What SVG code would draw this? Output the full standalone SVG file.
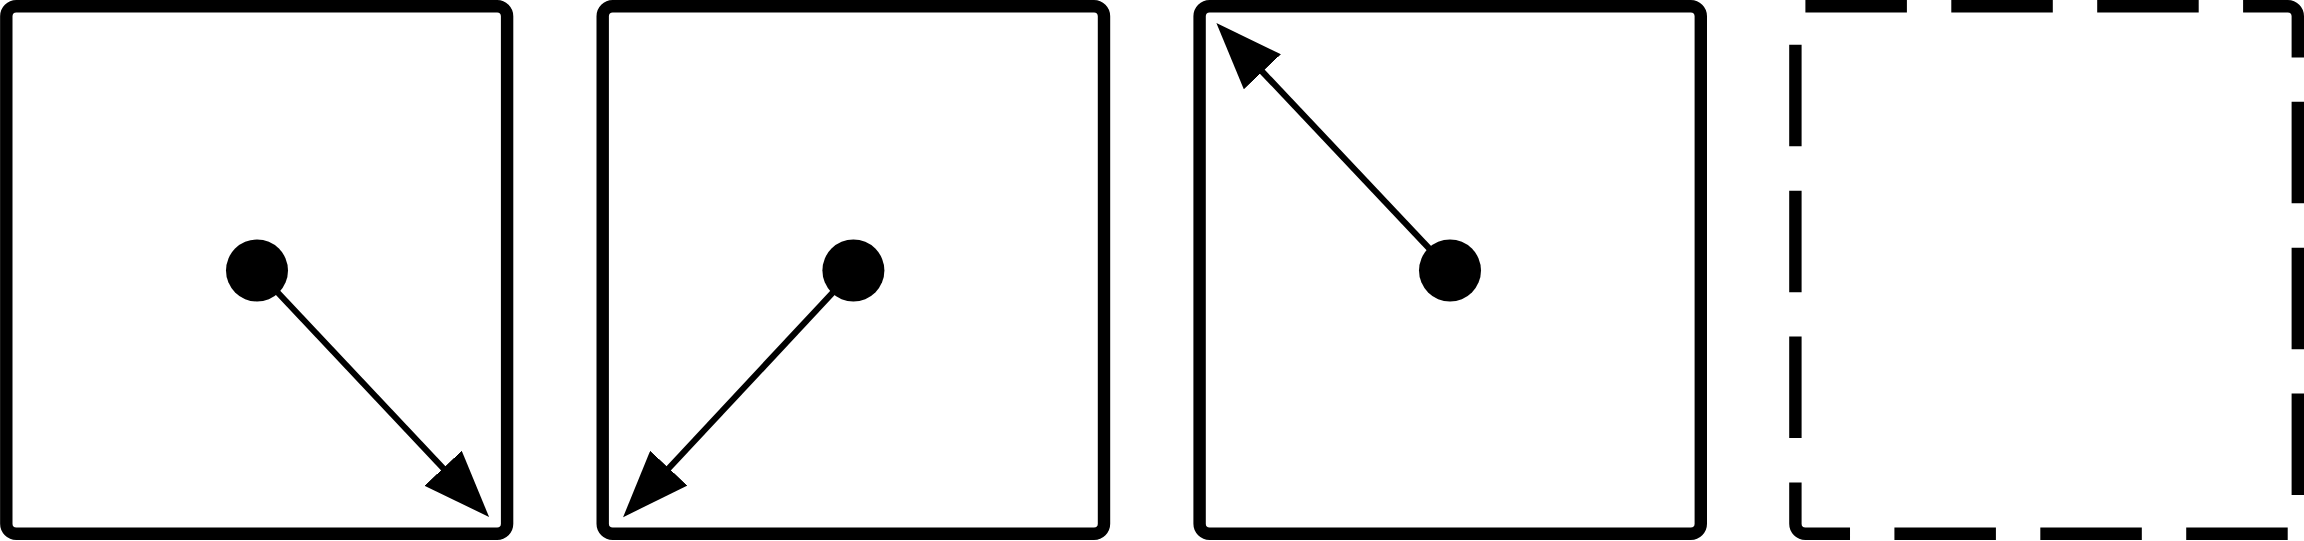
<svg xmlns="http://www.w3.org/2000/svg" width="2304" height="541" viewBox="0 0 2304 541">
  <style>
    .box { fill: #ffffff; stroke: #000000; stroke-width: 12.4; }
    .dashed { stroke-dasharray: 101.5 44.4; }
    .dot { fill: #000000; stroke: none; }
    .conn { fill: none; stroke: #000000; stroke-width: 6.2; marker-end: url(#arrow); }
  </style>
  <defs>
    <marker id="arrow" markerUnits="userSpaceOnUse" viewBox="0 0 67 51" markerWidth="67" markerHeight="51" refX="10" refY="25.5" orient="auto">
      <path d="M0,0 L67,25.5 L0,51 Z" fill="#000000"/>
    </marker>
  </defs>
  <rect width="2304" height="541" fill="#ffffff"/>
  <g id="box-1">
    <rect class="box" x="6.3" y="6.2" width="500.8" height="527.6" rx="10" ry="10"/>
    <circle class="dot" cx="257" cy="270.5" r="31"/>
  </g>
  <g id="box-2">
    <rect class="box" x="602.7" y="6.2" width="501.3" height="527.6" rx="10" ry="10"/>
    <circle class="dot" cx="853.4" cy="270.5" r="31"/>
  </g>
  <g id="box-3">
    <rect class="box" x="1199.6" y="6.2" width="501.2" height="527.6" rx="10" ry="10"/>
    <circle class="dot" cx="1450" cy="270.5" r="31"/>
  </g>
  <g id="box-4">
    <rect class="box dashed" x="1795.4" y="6.2" width="502.4" height="527.6" rx="10" ry="10" fill="none"/>
  </g>
  <g id="connectors">
    <line class="conn" x1="257" y1="270.5" x2="450" y2="475.5"/>
    <line class="conn" x1="853.4" y1="270.5" x2="662" y2="475.5"/>
    <line class="conn" x1="1450" y1="270.5" x2="1255.5" y2="64.5"/>
  </g>
</svg>
